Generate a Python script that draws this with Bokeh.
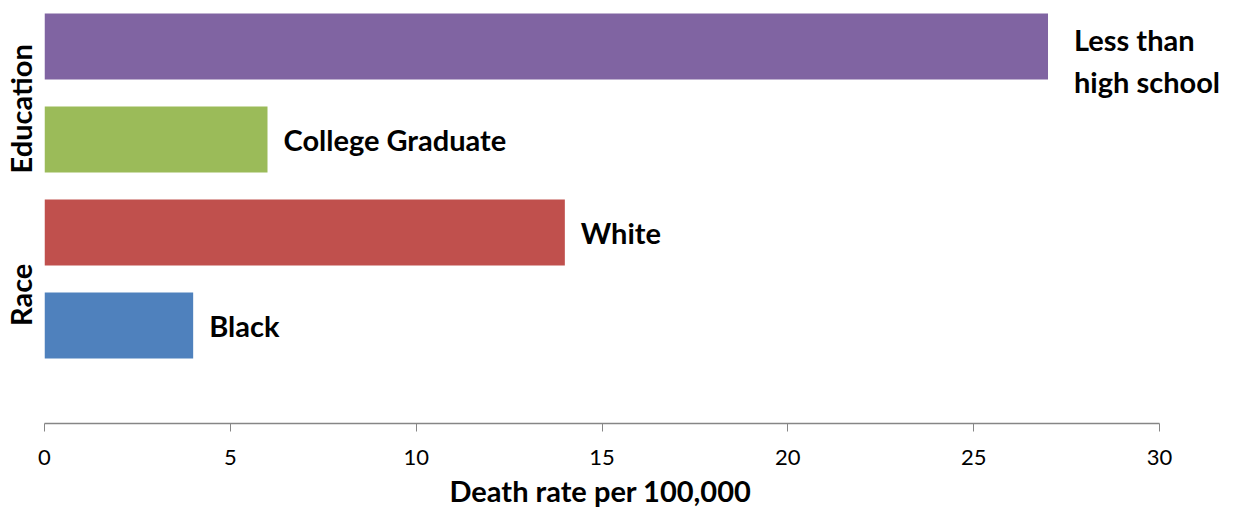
from bokeh.plotting import figure
from bokeh.models import ColumnDataSource, Range1d, FixedTicker, LinearAxis, Title
from bokeh.embed import file_html
from bokeh.resources import INLINE
from bokeh.core.properties import value

# ---- data ----
labels = ["Black", "White", "College Graduate", "Less than\nhigh school"]
rates = [4, 14, 6, 27]
positions = [1, 2, 3, 4]
colors = ["#4F81BD", "#C0504D", "#9BBB59", "#8064A2"]
groups = ["Race", "Education"]
group_members = [[1, 2], [3, 4]]
x_ticks = [0, 5, 10, 15, 20, 25, 30]
x_title = "Death rate per 100,000"

FONT = "Lato"

label_dx = [16, 16, 16, 26]
label_dy = [0, 0, 0, 14]
src = ColumnDataSource(dict(y=positions, x=rates, color=colors, label=labels,
                            dx=label_dx, dy=label_dy))

Y0, Y1 = -0.054, 4.495
p = figure(width=1230, height=516, output_backend="svg", toolbar_location=None,
           x_range=Range1d(0, 31.91), y_range=Range1d(Y0, Y1),
           min_border_left=43, min_border_right=0, min_border_top=0, min_border_bottom=93,
           y_axis_location=None)
p.outline_line_color = None
p.xgrid.visible = False
p.ygrid.visible = False

p.hbar(y="y", right="x", left=0, height=0.71, color="color", source=src, line_color=None)
p.text(x="x", y="y", text="label", source=src, x_offset="dx", y_offset="dy",
       text_font=value(FONT), text_font_style="bold", text_font_size="29px",
       text_baseline="middle", text_align="left", text_line_height=1.2, text_color="black")

# x axis
xa = p.xaxis[0]
xa.ticker = FixedTicker(ticks=x_ticks)
xa.bounds = (0, 30)
xa.axis_line_color = "#868686"
xa.axis_line_width = 1.5
xa.major_tick_line_color = "#868686"
xa.major_tick_in = 0
xa.major_tick_out = 8
xa.minor_tick_line_color = None
xa.major_label_text_font = FONT
xa.major_label_text_font_size = "22px"
xa.major_label_text_color = "black"
xa.major_label_standoff = 18

# x axis title, placed under the 0-30 span
p.add_layout(Title(text=x_title, align="left", offset=405, standoff=6, vertical_align="bottom",
                   text_font=FONT, text_font_style="bold", text_font_size="29px",
                   text_color="black"), "below")

# group labels as a left axis
gpos = [sum(m) / len(m) - 0.17 for m in group_members]
ya = LinearAxis(ticker=FixedTicker(ticks=gpos),
                major_label_overrides={gp: g for gp, g in zip(gpos, groups)})
ya.axis_line_color = None
ya.major_tick_line_color = None
ya.minor_tick_line_color = None
ya.major_label_orientation = "vertical"
ya.major_label_text_font = FONT
ya.major_label_text_font_style = "bold"
ya.major_label_text_font_size = "29px"
ya.major_label_text_color = "black"
ya.major_label_standoff = 0
p.add_layout(ya, "left")

open("out.html", "w").write(file_html(p, INLINE))
